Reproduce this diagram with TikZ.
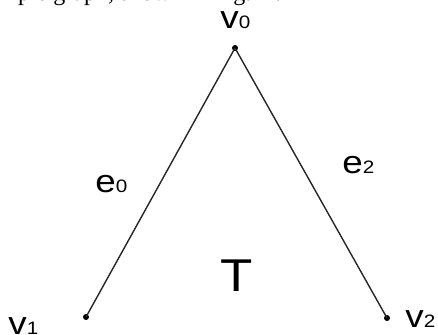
\documentclass[tikz,border=0pt]{standalone}
\usepackage{fontspec}
\setmainfont{Liberation Sans}
\newfontfamily\labelfont[FakeStretch=1.15]{Liberation Sans}
\newfontfamily\bodyfont{Liberation Serif}
\usepackage{tikz}
\usetikzlibrary{positioning}

\newcommand{\lbl}[2]{#1{\fontsize{9}{9}\selectfont #2}}

\begin{document}
\begin{tikzpicture}[x=0.5pt, y=-0.5pt,
    vertex/.style={circle, fill=black, inner sep=0pt, minimum size=3pt},
    vlabel/.style={anchor=base west, inner sep=0pt, font=\labelfont\fontsize{16}{16}\selectfont},
    edge/.style={black!85, line width=0.7pt}]

        \useasboundingbox (0,0) rectangle (438,334);
        \clip (0,0) rectangle (438,334);

        % --- teks di atas (terpotong) ---
        \node[anchor=base west, inner sep=0pt, font=\bodyfont\fontsize{12}{12}\selectfont] (cap) at (-1,0) {mple graph, shown in Fig.12.};

        % --- titik sudut ---
        \node[vertex] (v0) at (235,48) {};
        \node[vertex] (v1) at (86,317) {};
        \node[vertex] (v2) at (387,318) {};

        \node[vlabel] (lv0) at (220,28) {\lbl{v}{0}};
        \node[vlabel] (lv1) at (8,334) {\lbl{v}{1}};
        \node[vlabel] (lv2) at (405,327) {\lbl{v}{2}};

        % --- sisi ---
        \draw[edge] (v0.center) -- (v1.center);
        \draw[edge] (v0.center) -- (v2.center);

        \node[vlabel] (le0) at (95,192) {\lbl{e}{0}};
        \node[vlabel] (le2) at (342,173) {\lbl{e}{2}};

        \node[anchor=base, inner sep=0pt, font=\labelfont\fontsize{23}{23}\selectfont] (tri) at (237,291) {T};
    \end{tikzpicture}
\end{document}
